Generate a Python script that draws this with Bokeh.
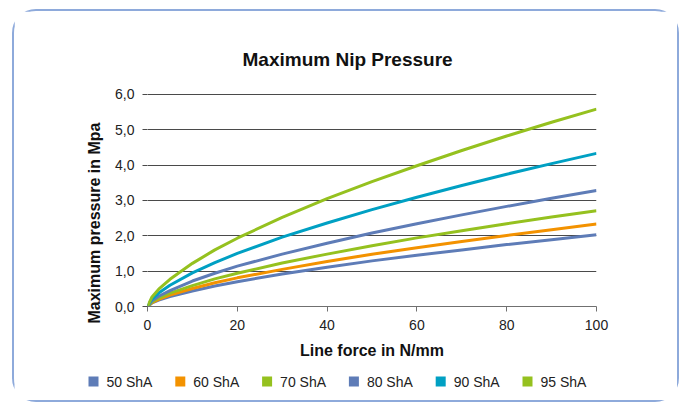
from bokeh.plotting import figure
from bokeh.layouts import column, row
from bokeh.models import Range1d, FixedTicker, Title
from bokeh.core.properties import value
from bokeh.embed import file_html
from bokeh.resources import INLINE

# ---- data ----
line_force = [0, 1, 2.5, 5, 10, 15, 20, 30, 40, 50, 60, 70, 80, 90, 100]
p50 = [0, 0.10, 0.18, 0.28, 0.44, 0.58, 0.70, 0.92, 1.11, 1.29, 1.45, 1.60, 1.75, 1.89, 2.03]
p60 = [0, 0.11, 0.20, 0.32, 0.51, 0.67, 0.81, 1.05, 1.27, 1.48, 1.66, 1.84, 2.01, 2.17, 2.33]
p70 = [0, 0.13, 0.24, 0.38, 0.59, 0.78, 0.94, 1.23, 1.48, 1.72, 1.94, 2.14, 2.34, 2.53, 2.71]
p80 = [0, 0.16, 0.29, 0.45, 0.72, 0.94, 1.14, 1.48, 1.79, 2.08, 2.34, 2.59, 2.83, 3.06, 3.28]
p90 = [0, 0.21, 0.38, 0.60, 0.95, 1.24, 1.50, 1.96, 2.36, 2.74, 3.09, 3.42, 3.74, 4.04, 4.33]
p95 = [0, 0.27, 0.49, 0.77, 1.22, 1.60, 1.93, 2.52, 3.05, 3.53, 3.98, 4.41, 4.82, 5.21, 5.58]

series_names = ["50 ShA", "60 ShA", "70 ShA", "80 ShA", "90 ShA", "95 ShA"]
series_values = [p50, p60, p70, p80, p90, p95]
series_colors = ["#5E7CB7", "#F39200", "#95C11F", "#5E7CB7", "#00A0C3", "#95C11F"]

x_ticks = [0, 20, 40, 60, 80, 100]
y_ticks = [0, 1, 2, 3, 4, 5, 6]
y_tick_labels = ["0,0", "1,0", "2,0", "3,0", "4,0", "5,0", "6,0"]

title_text = "Maximum Nip Pressure"
x_title = "Line force in N/mm"
y_title = "Maximum pressure in Mpa"

FONT = "Liberation Sans"

p = figure(width=663, height=355, output_backend="svg", toolbar_location=None,
           x_range=Range1d(0, 100), y_range=Range1d(0, 6.05),
           min_border_left=133, min_border_right=81, min_border_top=81,
           min_border_bottom=60, outline_line_color=None,
           background_fill_color="white", border_fill_color="white")
p.title.visible = False

for name, vals, col in zip(series_names, series_values, series_colors):
    p.line(line_force, vals, line_width=3, color=col)

# axes
p.xgrid.visible = False
p.ygrid.ticker = FixedTicker(ticks=y_ticks)
p.ygrid.grid_line_color = "#4a4a4a"
p.ygrid.grid_line_width = 1

p.xaxis.ticker = FixedTicker(ticks=x_ticks)
p.xaxis.axis_line_color = "#707070"
p.xaxis.major_tick_line_color = "#707070"
p.xaxis.major_tick_out = 5
p.xaxis.major_tick_in = 0
p.xaxis.minor_tick_line_color = None
p.xaxis.major_label_standoff = 8
p.xaxis.axis_label = x_title
p.xaxis.axis_label_standoff = 9

p.yaxis.ticker = FixedTicker(ticks=y_ticks)
p.yaxis.major_label_overrides = {t: l for t, l in zip(y_ticks, y_tick_labels)}
p.yaxis.axis_line_color = None
p.yaxis.major_tick_line_color = "#4a4a4a"
p.yaxis.major_tick_out = 5
p.yaxis.major_tick_in = 0
p.yaxis.minor_tick_line_color = None
p.yaxis.major_label_standoff = 8

for ax in (p.xaxis, p.yaxis):
    ax.major_label_text_font = FONT
    ax.major_label_text_font_size = "14px"
    ax.major_label_text_color = "#222222"
    ax.axis_label_text_font = FONT
    ax.axis_label_text_font_size = "16px"
    ax.axis_label_text_font_style = "bold"
    ax.axis_label_text_color = "#111111"

ytitle = Title(text=y_title, align="left", offset=-17, standoff=20,
               text_font=FONT, text_font_size="16px", text_font_style="bold",
               text_color="#111111")
p.add_layout(ytitle, "left")

main_title = Title(text=title_text, align="left", offset=95, standoff=46,
                   text_font=FONT, text_font_size="19px", text_font_style="bold",
                   text_color="#111111")
p.add_layout(main_title, "above")

# legend strip: a small figure whose data units are its own pixels
LG_W, LG_H = 663, 34
lg = figure(width=LG_W, height=LG_H, output_backend="svg", toolbar_location=None,
            x_range=Range1d(0, LG_W), y_range=Range1d(0, LG_H),
            min_border=0, min_border_left=0, min_border_right=0,
            min_border_top=0, min_border_bottom=0, outline_line_color=None,
            background_fill_color="white", border_fill_color="white")
lg.axis.visible = False
lg.grid.visible = False
slot = 86.8
first = 74
sw_left = [first + i * slot for i in range(len(series_names))]
sw_right = [l + 10 for l in sw_left]
sw_mid = LG_H - 15
lg.quad(left=sw_left, right=sw_right, bottom=[sw_mid - 5] * 6, top=[sw_mid + 5] * 6,
        fill_color=series_colors, line_color=None)
lg.text(x=[l + 18 for l in sw_left], y=[sw_mid] * 6, text=series_names,
        text_font=value(FONT), text_font_size="14px", text_color="#222222",
        text_baseline="middle", text_align="left")

layout = column(p, row(lg), margin=(9, 0, 0, 12), spacing=0,
                styles={"border": "2px solid #8EAADB", "border-radius": "24px"})

open("out.html", "w").write(file_html(layout, INLINE))
